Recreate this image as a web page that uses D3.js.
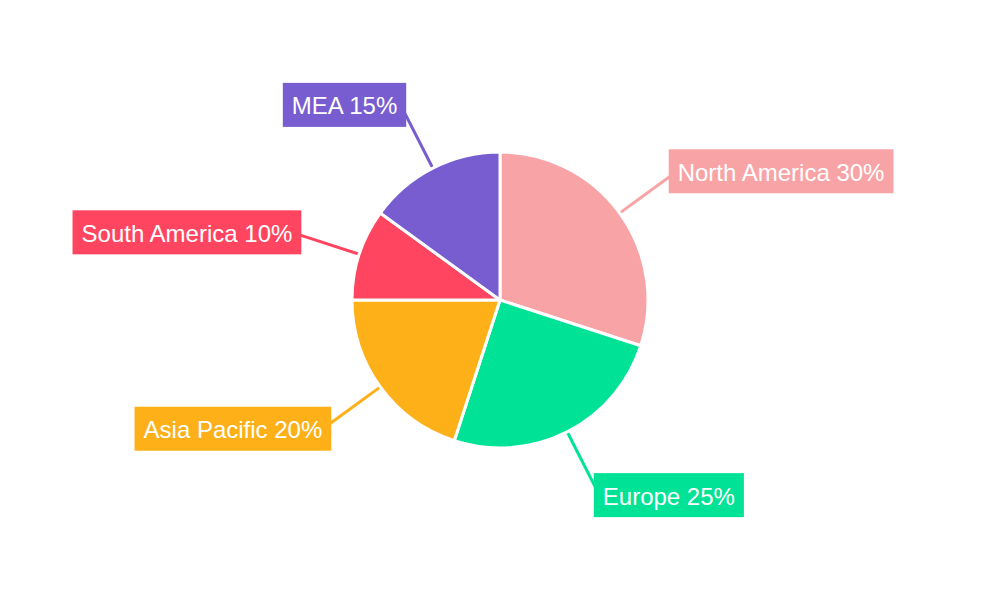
<!DOCTYPE html>
<html>
<head>
<meta charset="utf-8">
<script src="https://cdn.jsdelivr.net/npm/d3@7"></script>
<style>
  body { margin: 0; background: #fff; }
  svg { display: block; }
</style>
</head>
<body>
<svg id="chart"></svg>
<script>
var regions = ["North America", "Europe", "Asia Pacific", "South America", "MEA"];
var shares = [30, 25, 20, 10, 15];
var colors = ["#f8a4a6", "#00e396", "#feb019", "#ff4560", "#775dd0"];

var width = 1000, height = 600;
var cx = 500, cy = 300, radius = 148;

var svg = d3.select("#chart")
    .attr("width", width)
    .attr("height", height);

var rows = regions.map(function(r, i) { return {name: r, value: shares[i], color: colors[i]}; });

var pie = d3.pie()
    .value(function(d) { return d.value; })
    .sort(null);

var arc = d3.arc()
    .innerRadius(0)
    .outerRadius(radius);

var g = svg.append("g")
    .attr("transform", "translate(" + cx + "," + cy + ")");

var arcs = pie(rows);

// leader lines first so slices sit on top
arcs.forEach(function(d) {
  var a = (d.startAngle + d.endAngle) / 2;
  var s = Math.sin(a), c = -Math.cos(a);
  g.append("line")
    .attr("x1", s * (radius - 4))
    .attr("y1", c * (radius - 4))
    .attr("x2", s * 210)
    .attr("y2", c * 210)
    .style("stroke", d.data.color)
    .style("stroke-width", 3);
});

g.selectAll("path.slice")
  .data(arcs)
  .enter()
  .append("path")
  .attr("class", "slice")
  .attr("d", arc)
  .style("fill", function(d) { return d.data.color; })
  .style("stroke", "#fff")
  .style("stroke-width", 3)
  .style("stroke-linejoin", "round");

// label boxes
var padX = 9, boxH = 44;
arcs.forEach(function(d) {
  var a = (d.startAngle + d.endAngle) / 2;
  var s = Math.sin(a), c = -Math.cos(a);
  var ex = s * 211;
  var my = c * 219;
  var lab = g.append("g");
  var rect = lab.append("rect")
    .style("fill", d.data.color);
  var txt = lab.append("text")
    .attr("dominant-baseline", "central")
    .style("font-family", "'Liberation Sans', Arial, sans-serif")
    .style("font-size", "24px")
    .style("fill", "#fff")
    .text(d.data.name + " " + d.data.value + "%");
  var w = txt.node().getComputedTextLength() + padX * 2;
  var x0 = s >= 0 ? ex - 2 : ex - w + 2;
  rect.attr("x", x0)
    .attr("y", my - boxH / 2)
    .attr("width", w)
    .attr("height", boxH);
  txt.attr("x", x0 + padX)
    .attr("y", my + 1);
});
</script>
</body>
</html>
